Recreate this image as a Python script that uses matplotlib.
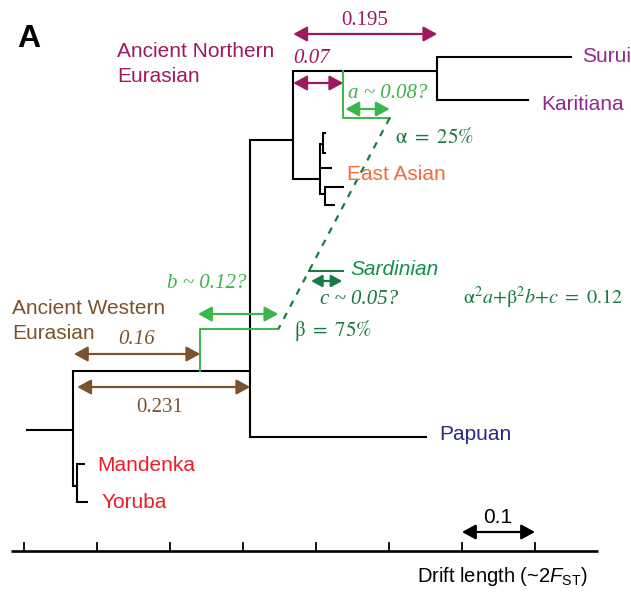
import matplotlib
matplotlib.use('Agg')
import matplotlib.pyplot as plt
import numpy as np

# ---------------- data ----------------
node_names = ['N1', 'Afr', 'Mandenka', 'Yoruba', 'N2', 'Papuan', 'N3', 'N4',
              'Surui', 'Karitiana', 'EA', 'EA1', 'EA1a', 'EA1b', 'EA_mid',
              'EA2', 'EA2a', 'EA2b']
node_parents = ['root', 'N1', 'Afr', 'Afr', 'N1', 'N2', 'N2', 'N3',
                'N4', 'N4', 'N3', 'EA', 'EA1', 'EA1', 'EA',
                'EA', 'EA2', 'EA2']
branch_len = [0.0644, 0.0055, 0.011, 0.015, 0.2425, 0.2425, 0.0589, 0.1973,
              0.1849, 0.126, 0.037, 0.0041, 0.0033, 0.0033, 0.0164,
              0.0068, 0.0251, 0.0137]
root_x = 0.003

# ghost-population drift values (as drawn)
ane_split = 0.0685   # ANE split after N3 (labelled 0.07)
ane_drift = 0.0636   # a
awe_split = 0.174    # AWE split after N1 (labelled 0.16)
awe_drift = 0.107    # b
sard_drift = 0.0466  # c

drift_ticks = [0.0, 0.1, 0.2, 0.3, 0.4, 0.5, 0.6, 0.7]
scale_bar = (0.6, 0.7)

# ---------------- layout (rows in pixel units) ----------------
node_rows = {'N1': 430, 'Afr': 486, 'Mandenka': 464, 'Yoruba': 502, 'N2': 371,
             'Papuan': 437, 'N3': 140, 'N4': 71, 'Surui': 57, 'Karitiana': 100,
             'EA': 179, 'EA1': 144, 'EA1a': 133, 'EA1b': 153, 'EA_mid': 168,
             'EA2': 194, 'EA2a': 187, 'EA2b': 205}
ane_row, awe_row, sard_row = 118, 329, 271

W, H = 631, 593
fig = plt.figure(figsize=(W / 100, H / 100), dpi=100)
ax = fig.add_axes([0, 0, 1, 1])
X0, SC = 24, 730.0
ax.set_xlim((0 - X0) / SC, (W - X0) / SC)
ax.set_ylim(H, 0)
ax.axis('off')


def P(px):
    return (px - X0) / SC


SANS = 'Liberation Sans'
SERIF = 'Liberation Serif'
plt.rcParams['mathtext.fontset'] = 'custom'
plt.rcParams['mathtext.rm'] = 'Liberation Sans'
plt.rcParams['mathtext.it'] = 'Liberation Sans:italic'

MAG = '#9e1a60'
PURP = '#93278f'
LG = '#3cb54a'
DG = '#187a45'
SARD = '#12904a'
BRN = '#7a532c'
ORG = '#f26b3a'
RED = '#ee1c25'
NAVY = '#2b2a80'

# ---------------- tree ----------------
xpos = {'root': root_x}
for n, p, l in zip(node_names, node_parents, branch_len):
    xpos[n] = xpos[p] + l
rows = dict(node_rows)
rows['root'] = rows['N1']
tree_lw = 1.5
for n, p in zip(node_names, node_parents):
    ax.plot([xpos[p], xpos[n]], [rows[n], rows[n]], color='black', lw=tree_lw,
            solid_capstyle='butt')
children = {}
for n, p in zip(node_names, node_parents):
    children.setdefault(p, []).append(n)
for p, ch in children.items():
    if p == 'root':
        continue
    ys = [rows[c] for c in ch] + [rows[p]]
    ax.plot([xpos[p], xpos[p]], [min(ys) - 0.7, max(ys) + 0.7], color='black',
            lw=tree_lw, solid_capstyle='butt')

# ---------------- ghost populations ----------------
x_ane = xpos['N3'] + ane_split
ane_tip = x_ane + ane_drift
ax.plot([x_ane, x_ane, ane_tip], [rows['N4'], ane_row, ane_row], color=LG, lw=1.4)
x_awe = xpos['N1'] + awe_split
awe_tip = x_awe + awe_drift
ax.plot([x_awe, x_awe, awe_tip], [rows['N2'], awe_row, awe_row], color=LG, lw=1.4)
ax.plot([ane_tip, awe_tip], [ane_row, awe_row], color=DG, lw=1.6,
        linestyle=(0, (3, 3.2)))
sard_start = np.interp(sard_row, [ane_row, awe_row], [ane_tip, awe_tip])
ax.plot([sard_start, sard_start + sard_drift], [sard_row, sard_row], color=DG, lw=1.5)


def arrow(x1, x2, y, color, lw=1.6, ms=15):
    ax.annotate('', xy=(x2, y), xytext=(x1, y),
                arrowprops=dict(arrowstyle='<|-|>,head_length=0.55,head_width=0.3',
                                mutation_scale=ms, color=color, lw=lw,
                                shrinkA=0, shrinkB=0))


arrow(xpos['N3'], xpos['N4'], 34, MAG)
arrow(xpos['N3'], x_ane, 83, MAG)
arrow(x_ane + 0.003, ane_tip, 109, LG)
arrow(x_awe - 0.003, awe_tip, 314, LG)
arrow(sard_start + 0.003, sard_start + sard_drift - 0.001, 281, DG, ms=12)
arrow(xpos['N1'] + 0.001, x_awe, 354, BRN)
arrow(xpos['Afr'], xpos['N2'], 387, BRN)
arrow(scale_bar[0], scale_bar[1], 532, 'black')

# ---------------- axis ----------------
ax.plot([P(11), P(598)], [551, 551], color='black', lw=1.9, solid_capstyle='butt')
for t in drift_ticks:
    ax.plot([t, t], [551, 543], color='black', lw=1.3)

# ---------------- text ----------------
def txt(px, y, s, color, fam=SANS, size=15, style='normal', ha='left', **kw):
    ax.text(P(px), y, s, color=color, family=fam, fontsize=size, style=style,
            ha=ha, va='baseline', **kw)


txt(17, 47, 'A', 'black', size=23, weight='bold')
txt(117, 57, 'Ancient Northern', MAG)
txt(117, 82, 'Eurasian', MAG)
txt(365, 25, '0.195', MAG, fam=SERIF, ha='center')
txt(293, 63, '0.07', MAG, fam=SERIF, style='italic')
txt(582, 62, 'Surui', PURP)
txt(541, 110, 'Karitiana', PURP)
txt(348, 98, 'a ~ 0.08?', LG, fam=SERIF, style='italic')
ax.text(P(395), 143, r'$\mathrm{\alpha}\ =\ \mathit{25\%}$', color=DG, fontsize=15,
        math_fontfamily='stix', va='baseline')
txt(347, 180, 'East Asian', ORG)
txt(350, 275, 'Sardinian', SARD, style='italic')
txt(320, 304, 'c ~ 0.05?', DG, fam=SERIF, style='italic')
ax.text(P(463), 304, r'$\mathrm{\alpha}^{2}a{+}\mathrm{\beta}^{2}b{+}c\ =\ \mathit{0.12}$',
        color=DG, fontsize=14.5, math_fontfamily='stix', va='baseline')
ax.text(P(294), 336, r'$\mathrm{\beta}\ =\ \mathit{75\%}$', color=DG, fontsize=15,
        math_fontfamily='stix', va='baseline')
txt(167, 288, 'b ~ 0.12?', LG, fam=SERIF, style='italic')
txt(12, 314, 'Ancient Western', BRN)
txt(12, 339, 'Eurasian', BRN)
txt(137, 344, '0.16', BRN, fam=SERIF, style='italic', ha='center')
txt(160, 412, '0.231', BRN, fam=SERIF, ha='center')
txt(97, 471, 'Mandenka', RED)
txt(102, 508, 'Yoruba', RED)
txt(439, 440, 'Papuan', NAVY)
txt(498, 523, '0.1', 'black', ha='center')
ax.text(P(417), 582, r'Drift length (~2$\mathit{F}_{\mathrm{ST}}$)', color='black',
        family=SANS, fontsize=14.5, va='baseline', math_fontfamily='custom')

fig.savefig('out.png', dpi=100)
